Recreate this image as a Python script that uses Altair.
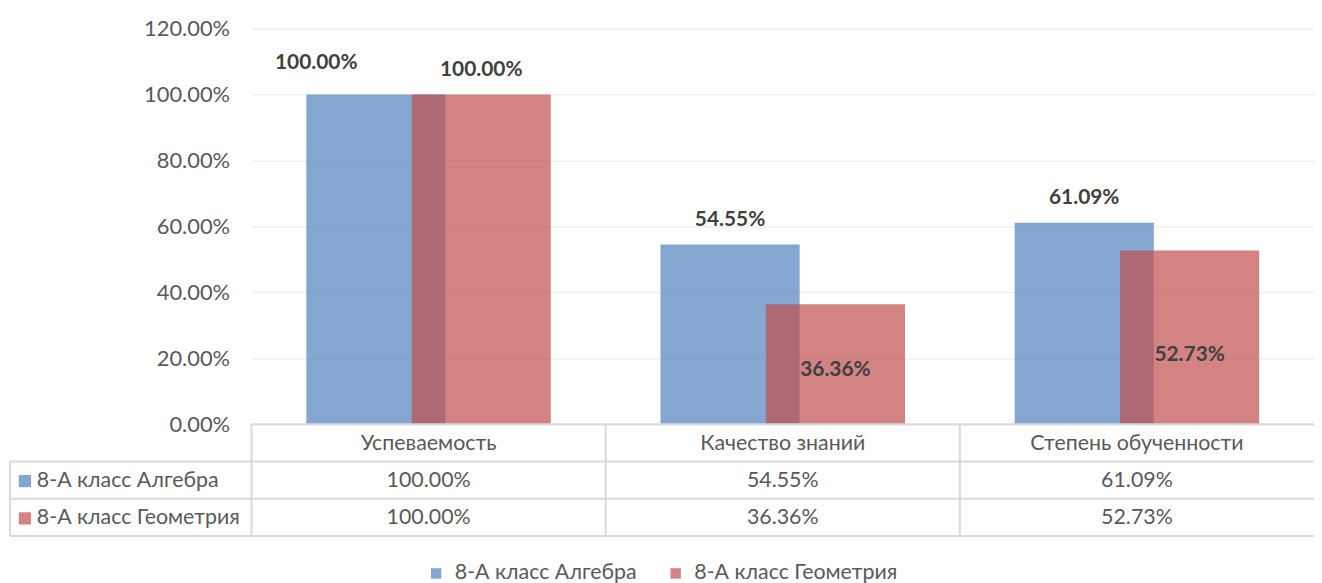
import altair as alt
import pandas as pd

# ---- data ----
categories = ["Успеваемость", "Качество знаний", "Степень обученности"]
series_names = ["8-А класс Алгебра", "8-А класс Геометрия"]
algebra = [1.0000, 0.5455, 0.6109]
geometry = [1.0000, 0.3636, 0.5273]
y_ticks = [0, 0.2, 0.4, 0.6, 0.8, 1.0, 1.2]
colors = ["#4F81BD", "#C0504D"]

rows = []
for c, a, g in zip(categories, algebra, geometry):
    rows.append({"category": c, "series": series_names[0], "value": a})
    rows.append({"category": c, "series": series_names[1], "value": g})
df = pd.DataFrame(rows)
cat_df = pd.DataFrame({"category": categories})
one = pd.DataFrame({"k": [0]})

# ---- layout / style ----
W, H = 1069, 398
FONT = "Lato"
FS = 21.5
GRAY = "#595959"
DARK = "#404040"
LINE = "#D9D9D9"
BAR_W = 140
OFF = 53
ROW = 37.5
TBL_LEFT = -243
ROW_TOPS = [H, H + ROW, H + 2 * ROW, H + 3 * ROW]

xscale = alt.Scale(domain=categories, paddingInner=0, paddingOuter=0)
xenc = alt.X("category:N", sort=categories, scale=xscale, axis=None)
yaxis = alt.Axis(values=y_ticks, format=".2%", domain=False, ticks=False,
                 labelFont=FONT, labelFontSize=22, labelColor=GRAY,
                 labelPadding=22, gridColor="#EFEFEF", gridWidth=1.5, title=None)
yscale = alt.Scale(domain=[0, 1.2], nice=False)


def yenc(field):
    return alt.Y(field, type="quantitative", scale=yscale, axis=yaxis)


color = alt.Color(
    "series:N",
    scale=alt.Scale(domain=series_names, range=colors),
    legend=alt.Legend(orient="none", legendX=175, legendY=537, direction="horizontal",
                      title=None, symbolType="square", symbolSize=110,
                      symbolOpacity=0.7, symbolStrokeWidth=0,
                      labelFont=FONT, labelFontSize=FS, labelColor=GRAY,
                      labelLimit=0, columnPadding=28, labelOffset=8),
)

base = alt.Chart(df)
isA = alt.datum.series == series_names[0]
isG = alt.datum.series == series_names[1]

bars_a = base.transform_filter(isA).mark_bar(width=BAR_W, xOffset=-OFF, opacity=0.7).encode(
    x=xenc, y=yenc("value"), color=color)
bars_g = base.transform_filter(isG).mark_bar(width=BAR_W, xOffset=OFF, opacity=0.7).encode(
    x=xenc, y=yenc("value"), color=color)

lab_style = dict(font=FONT, fontSize=21, fontWeight="bold", color=DARK, baseline="middle")

lab_a_first = base.transform_filter(isA & (alt.datum.category == categories[0])).mark_text(
    dx=-OFF - 60, dy=-32, **lab_style).encode(
    x=xenc, y=yenc("value"), text=alt.Text("value:Q", format=".2%"))
lab_a_rest = base.transform_filter(isA & (alt.datum.category != categories[0])).mark_text(
    dx=-OFF, dy=-25, **lab_style).encode(
    x=xenc, y=yenc("value"), text=alt.Text("value:Q", format=".2%"))
lab_g_top = base.transform_filter(isG & (alt.datum.value >= 1)).mark_text(
    dx=OFF, dy=-25, **lab_style).encode(
    x=xenc, y=yenc("value"), text=alt.Text("value:Q", format=".2%"))
lab_g_in = base.transform_filter(isG & (alt.datum.value < 1)).transform_calculate(
    ly="datum.value * 0.29 + 0.058").mark_text(dx=OFF, **lab_style).encode(
    x=xenc, y=yenc("ly"), text=alt.Text("value:Q", format=".2%"))

# ---- data table ----
tstyle = dict(font=FONT, fontSize=FS, color=GRAY, baseline="middle")
layers_tbl = []
layers_tbl.append(alt.Chart(cat_df).mark_text(**tstyle).encode(
    x=xenc, y=alt.value(H + ROW / 2 + 1), text="category:N"))
for i, (flt, nm) in enumerate([(isA, series_names[0]), (isG, series_names[1])]):
    yc = H + ROW * (i + 1) + ROW / 2 + 1
    layers_tbl.append(base.transform_filter(flt).mark_text(**tstyle).encode(
        x=xenc, y=alt.value(yc), text=alt.Text("value:Q", format=".2%")))
    sdf = pd.DataFrame({"series": [nm]})
    layers_tbl.append(alt.Chart(sdf).mark_square(size=150, opacity=0.7).encode(
        x=alt.value(-228), y=alt.value(yc), color=color))
    layers_tbl.append(alt.Chart(sdf).mark_text(align="left", **tstyle).encode(
        x=alt.value(-216), y=alt.value(yc), text="series:N"))

rule_style = dict(color=LINE, strokeWidth=2)
rules = []
rules.append(alt.Chart(one).mark_rule(**rule_style).encode(
    x=alt.value(0), x2=alt.value(W + 10), y=alt.value(ROW_TOPS[0])))
for yy in ROW_TOPS[1:]:
    rules.append(alt.Chart(one).mark_rule(**rule_style).encode(
        x=alt.value(TBL_LEFT), x2=alt.value(W + 10), y=alt.value(yy)))
rules.append(alt.Chart(one).mark_rule(**rule_style).encode(
    x=alt.value(TBL_LEFT), y=alt.value(ROW_TOPS[1]), y2=alt.value(ROW_TOPS[3])))
rules.append(alt.Chart(cat_df).mark_rule(**rule_style).encode(
    x=alt.X("category:N", sort=categories, scale=xscale, axis=None, bandPosition=0),
    y=alt.value(ROW_TOPS[0]), y2=alt.value(ROW_TOPS[3])))

chart = alt.layer(
    bars_a, bars_g, lab_a_first, lab_a_rest, lab_g_top, lab_g_in, *rules, *layers_tbl
).properties(
    width=W, height=H,
    background="white",
    autosize=alt.AutoSizeParams(type="none"),
    padding={"left": 245, "top": 19, "right": 0, "bottom": 160},
).configure_view(stroke=None)

chart.save("out.html", embed_options={"renderer": "svg", "actions": False})
